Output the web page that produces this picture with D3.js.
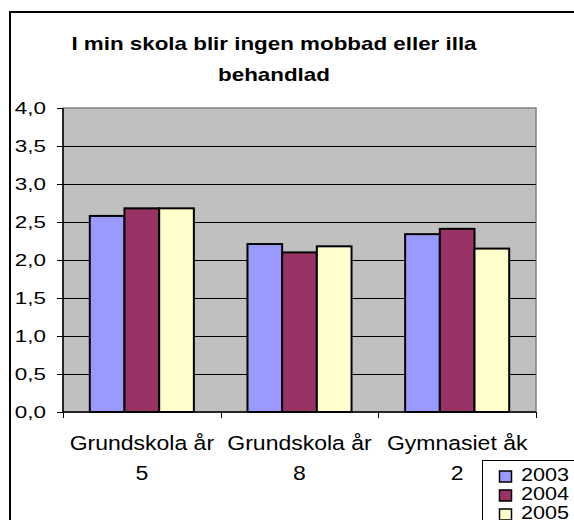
<!DOCTYPE html>
<html>
<head>
<meta charset="utf-8">
<script src="https://cdn.jsdelivr.net/npm/d3@7/dist/d3.min.js"></script>
<style>
  body { margin: 0; background: #fff; }
  text { font-family: "Liberation Sans", Arial, sans-serif; fill: #000; }
</style>
</head>
<body>
<div id="chart"></div>
<script>
// data
var categories = ["Grundskola år 5", "Grundskola år 8", "Gymnasiet åk 2"];
var seriesNames = ["2003", "2004", "2005"];
var values2003 = [2.58, 2.21, 2.34];
var values2004 = [2.68, 2.10, 2.41];
var values2005 = [2.68, 2.18, 2.15];
var yTicks = [0, 0.5, 1, 1.5, 2, 2.5, 3, 3.5, 4];
var colors = ["#9999ff", "#993366", "#ffffcc"];
var titleLines = ["I min skola blir ingen mobbad eller illa", "behandlad"];

var seriesValues = [values2003, values2004, values2005];

var width = 574, height = 520;
var plot = {left: 63, right: 536, top: 108, bottom: 412};

var svg = d3.select('#chart').append('svg')
    .attr('width', width).attr('height', height);

// outer chart frame (runs off the right and bottom edges)
svg.append('rect')
    .attr('x', 10).attr('y', 12)
    .attr('width', 620).attr('height', 600)
    .attr('fill', '#fff').attr('stroke', '#000').attr('stroke-width', 2);

// text in the picture is drawn a bit wide, so stretch it horizontally
function stretchedText(g, x, y, txt, size, anchor, sx, weight) {
    return g.append('text')
        .attr('transform', 'translate(' + x + ',' + y + ') scale(' + sx + ',1)')
        .attr('text-anchor', anchor)
        .style('font-size', size + 'px')
        .style('font-weight', weight || 'normal')
        .text(txt);
}

// title
titleLines.forEach(function (line, i) {
    stretchedText(svg, 274, 50 + i * 31, line, 18.5, 'middle', 1.21, 'bold');
});

var y = d3.scaleLinear().domain([0, 4]).range([plot.bottom, plot.top]);
var x0 = d3.scaleBand().domain(categories).range([plot.left, plot.right]);
var bw = x0.bandwidth();
var x1 = d3.scaleBand().domain(seriesNames).range([bw * 0.17, bw * 0.83]);

// plot area
svg.append('rect')
    .attr('x', plot.left).attr('y', plot.top)
    .attr('width', plot.right - plot.left).attr('height', plot.bottom - plot.top)
    .attr('fill', '#c0c0c0').attr('stroke', '#808080').attr('stroke-width', 1.5);

// gridlines
svg.append('g').selectAll('line').data(yTicks.filter(function (d) { return d > 0 && d < 4; }))
    .enter().append('line')
    .attr('x1', plot.left).attr('x2', plot.right)
    .attr('y1', function (d) { return Math.round(y(d)) + 0.5; })
    .attr('y2', function (d) { return Math.round(y(d)) + 0.5; })
    .attr('stroke', '#000').attr('stroke-width', 1);

// bars
var groups = svg.append('g').selectAll('g.group').data(categories)
    .enter().append('g').attr('class', 'group')
    .attr('transform', function (d) { return 'translate(' + x0(d) + ',0)'; });

groups.selectAll('rect').data(function (d, i) {
        return seriesNames.map(function (s, j) { return {s: s, v: seriesValues[j][i], j: j}; });
    })
    .enter().append('rect')
    .attr('x', function (d) { return x1(d.s); })
    .attr('width', x1.bandwidth())
    .attr('y', function (d) { return y(d.v); })
    .attr('height', function (d) { return y(0) - y(d.v); })
    .attr('fill', function (d) { return colors[d.j]; })
    .attr('stroke', '#000').attr('stroke-width', 2);

// y axis
var yAxis = svg.append('g').attr('transform', 'translate(' + plot.left + ',0)');
yAxis.append('line').attr('x1', 0).attr('x2', 0).attr('y1', plot.top).attr('y2', plot.bottom)
    .attr('stroke', '#000').attr('stroke-width', 1.5);
yAxis.selectAll('line.tick').data(yTicks).enter().append('line').attr('class', 'tick')
    .attr('x1', -6).attr('x2', 0)
    .attr('y1', function (d) { return Math.round(y(d)) + 0.5; })
    .attr('y2', function (d) { return Math.round(y(d)) + 0.5; })
    .attr('stroke', '#000');
var fmt = function (d) { return d3.format('.1f')(d).replace('.', ','); };
yTicks.forEach(function (d) {
    stretchedText(svg, 46, y(d) + 6, fmt(d), 16.5, 'end', 1.36);
});

// x axis
svg.append('line').attr('x1', plot.left).attr('x2', plot.right)
    .attr('y1', plot.bottom).attr('y2', plot.bottom)
    .attr('stroke', '#000').attr('stroke-width', 1.5);
var xTickPos = categories.map(function (c) { return x0(c); }).concat([plot.right]);
svg.append('g').selectAll('line').data(xTickPos).enter().append('line')
    .attr('x1', function (d) { return Math.round(d) + 0.5; })
    .attr('x2', function (d) { return Math.round(d) + 0.5; })
    .attr('y1', plot.bottom).attr('y2', plot.bottom + 6)
    .attr('stroke', '#000');

categories.forEach(function (c) {
    var cut = c.lastIndexOf(' ');
    var cx = x0(c) + bw / 2;
    stretchedText(svg, cx, 450, c.slice(0, cut), 19.5, 'middle', 1.18);
    stretchedText(svg, cx, 480, c.slice(cut + 1), 19.5, 'middle', 1.18);
});

// legend (runs off the bottom edge)
var legend = svg.append('g');
legend.append('rect')
    .attr('x', 482.5).attr('y', 460.5).attr('width', 120).attr('height', 100)
    .attr('fill', '#fff').attr('stroke', '#000').attr('stroke-width', 1);
seriesNames.forEach(function (s, i) {
    var ly = 471 + i * 19;
    legend.append('rect')
        .attr('x', 499.5).attr('y', ly).attr('width', 12).attr('height', 11)
        .attr('fill', colors[i]).attr('stroke', '#000').attr('stroke-width', 1.5);
    stretchedText(legend, 521, ly + 10, s, 18, 'start', 1.2);
});
</script>
</body>
</html>
